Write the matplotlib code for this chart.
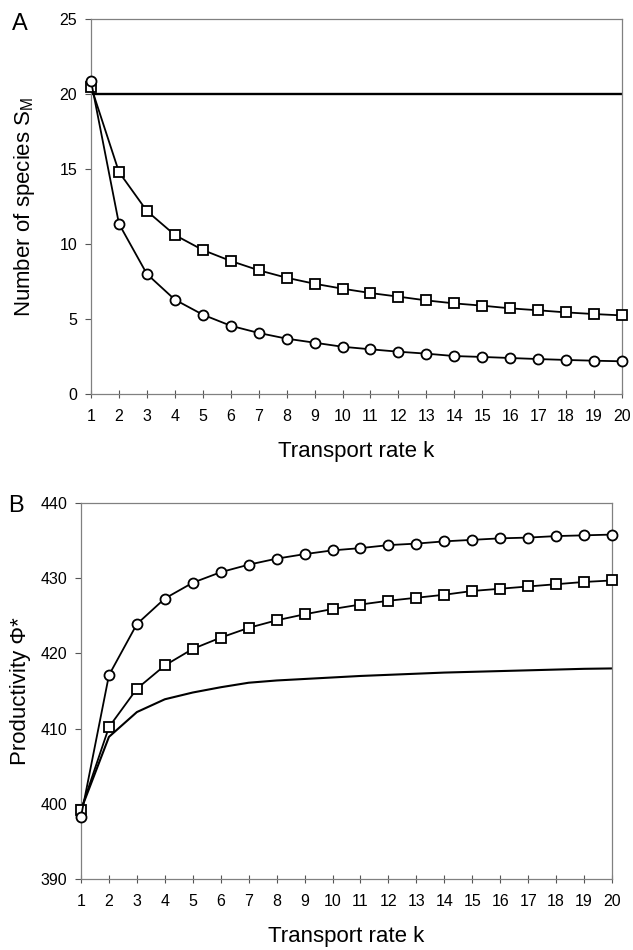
import matplotlib
matplotlib.use("Agg")
import matplotlib.pyplot as plt

plt.rcParams['font.family'] = ['Liberation Sans', 'DejaVu Sans']
plt.rcParams['mathtext.fontset'] = 'custom'
plt.rcParams['mathtext.rm'] = 'Liberation Sans'

k = list(range(1, 21))

# Panel A: number of species S_M
sm_flat = [20] * 20
sm_squares = [20.5, 14.8, 12.2, 10.6, 9.6, 8.87, 8.25, 7.75, 7.35, 7.02,
              6.73, 6.49, 6.24, 6.04, 5.89, 5.71, 5.58, 5.44, 5.33, 5.24]
sm_circles = [20.87, 11.35, 8.0, 6.29, 5.29, 4.55, 4.07, 3.69, 3.42, 3.15,
              2.98, 2.82, 2.69, 2.53, 2.47, 2.40, 2.33, 2.27, 2.22, 2.18]

# Panel B: productivity Phi*
ph_line = [399.2, 408.9, 412.2, 413.9, 414.8, 415.5, 416.1, 416.4, 416.6, 416.8,
           417.0, 417.15, 417.3, 417.45, 417.55, 417.65, 417.75, 417.85, 417.95, 418.0]
ph_squares = [399.2, 410.2, 415.3, 418.4, 420.6, 422.1, 423.4, 424.4, 425.2, 425.9,
              426.5, 427.0, 427.4, 427.8, 428.3, 428.6, 428.9, 429.2, 429.5, 429.7]
ph_circles = [398.3, 417.1, 423.9, 427.3, 429.4, 430.8, 431.8, 432.6, 433.2, 433.7,
              434.0, 434.4, 434.6, 434.9, 435.1, 435.3, 435.4, 435.6, 435.7, 435.8]

yticksA = [0, 5, 10, 15, 20, 25]
yticksB = [390, 400, 410, 420, 430, 440]

fig = plt.figure(figsize=(6.33, 9.5), dpi=100)
W, H = 633, 950

axA = fig.add_axes([91 / W, 1 - 394 / H, 531 / W, 375 / H])
axB = fig.add_axes([81 / W, 1 - 879 / H, 531 / W, 376 / H])

mk = dict(color='black', lw=1.3, markerfacecolor='white', markeredgecolor='black',
          markeredgewidth=1.3, clip_on=False, zorder=3)

axA.plot(k, sm_flat, color='black', lw=1.7, zorder=2)
axA.plot(k, sm_squares, marker='s', markersize=6.8, **mk)
axA.plot(k, sm_circles, marker='o', markersize=7.2, **mk)

axB.plot(k, ph_line, color='black', lw=1.5, zorder=2)
axB.plot(k, ph_squares, marker='s', markersize=6.8, **mk)
axB.plot(k, ph_circles, marker='o', markersize=7.2, **mk)

for ax, yt in ((axA, yticksA), (axB, yticksB)):
    ax.set_xlim(1, 20)
    ax.set_ylim(yt[0], yt[-1])
    ax.set_xticks(k)
    ax.set_yticks(yt)
    ax.tick_params(axis='x', direction='inout', length=6, width=0.8, color='#555555',
                   labelsize=11.5, pad=8)
    ax.tick_params(axis='y', direction='out', length=4, width=0.8, color='#555555',
                   labelsize=11.5, pad=6)
    for s in ax.spines.values():
        s.set_color('#808080')
        s.set_linewidth(0.9)
    ax.set_xlabel('Transport rate k', fontsize=16, labelpad=12)

axA.set_ylabel(r'Number of species S$_\mathregular{M}$', fontsize=16, labelpad=16)
axB.set_ylabel('Productivity Φ*', fontsize=16, labelpad=7)

fig.text(12 / W, 1 - 24 / H, 'A', fontsize=17, va='center', ha='left')
fig.text(8 / W, 1 - 506 / H, 'B', fontsize=17, va='center', ha='left')

fig.savefig('out.png', dpi=100)
